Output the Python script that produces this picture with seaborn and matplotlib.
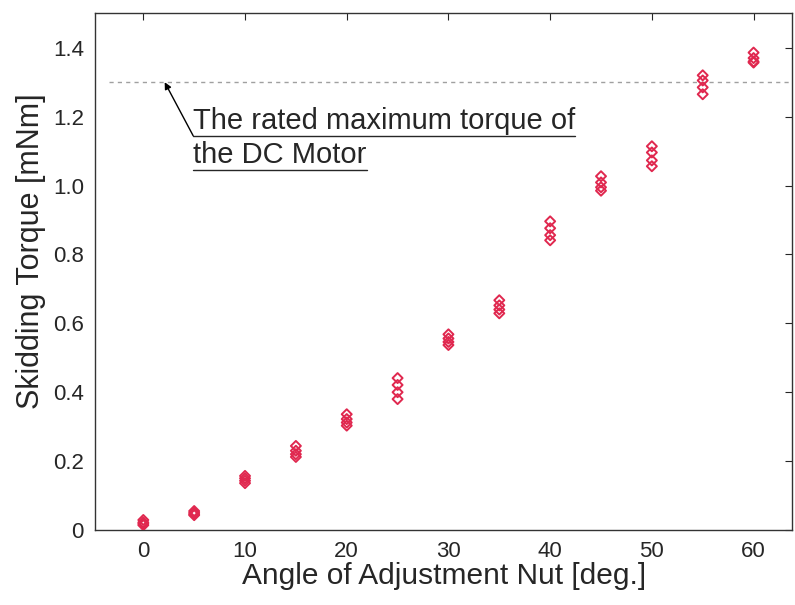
import numpy as np
import pandas as pd
import matplotlib
matplotlib.use("Agg")
import matplotlib.pyplot as plt
import seaborn as sns
from matplotlib.lines import Line2D

# Measured skidding torque, four trials per nut angle
angle_deg = [0, 5, 10, 15, 20, 25, 30, 35, 40, 45, 50, 55, 60]
trial_1 = [0.029, 0.055, 0.157, 0.244, 0.336, 0.441, 0.568, 0.667, 0.896, 1.027, 1.114, 1.320, 1.386]
trial_2 = [0.022, 0.050, 0.150, 0.230, 0.322, 0.421, 0.556, 0.652, 0.876, 1.009, 1.096, 1.305, 1.370]
trial_3 = [0.018, 0.046, 0.143, 0.220, 0.312, 0.400, 0.546, 0.640, 0.856, 0.995, 1.073, 1.285, 1.360]
trial_4 = [0.014, 0.043, 0.136, 0.212, 0.303, 0.380, 0.537, 0.629, 0.841, 0.985, 1.056, 1.265, 1.357]
rated_max_torque = 1.3

x_ticks = [0, 10, 20, 30, 40, 50, 60]
y_ticks = [0, 0.2, 0.4, 0.6, 0.8, 1.0, 1.2, 1.4]
y_tick_labels = ["0", "0.2", "0.4", "0.6", "0.8", "1.0", "1.2", "1.4"]

df = pd.DataFrame({"Angle": angle_deg * 4,
                   "Torque": trial_1 + trial_2 + trial_3 + trial_4})

sns.set_theme(style="white")
plt.rcParams["font.family"] = ["Liberation Sans", "DejaVu Sans"]
text_col = "#262626"

fig = plt.figure(figsize=(7.95, 6.05), dpi=100)
ax = fig.add_axes([0.1195, 0.124, 0.877, 0.854])

ax.axhline(rated_max_torque, xmin=0.02, color="#a0a0a0", lw=1.0, ls=(0, (3, 3)), zorder=1)

sns.scatterplot(data=df, x="Angle", y="Torque", ax=ax, marker="D", s=26,
                facecolor="none", edgecolor="#e0284f", linewidth=1.4, zorder=3)

ax.set_xlim(-4.75, 63.8)
ax.set_ylim(0, 1.5)
ax.set_xticks(x_ticks)
ax.set_yticks(y_ticks)
ax.set_yticklabels(y_tick_labels)
ax.tick_params(direction="in", length=5, width=0.8, top=True, right=True,
               labelsize=16, colors=text_col, pad=8)
for sp in ax.spines.values():
    sp.set_color("#333333")
    sp.set_linewidth(1.0)

ax.set_xlabel("Angle of Adjustment Nut [deg.]", fontsize=21.5, color=text_col, labelpad=0)
ax.set_ylabel("Skidding Torque [mNm]", fontsize=22, color=text_col)
ax.yaxis.set_label_coords(-0.07, 0.54)

# annotation text, underlined like the original
t1 = ax.text(4.9, 1.165, "The rated maximum torque of", fontsize=21, color=text_col, va="baseline")
t2 = ax.text(4.9, 1.066, "the DC Motor", fontsize=21, color=text_col, va="baseline")
fig.canvas.draw()
renderer = fig.canvas.get_renderer()
for t in (t1, t2):
    bb = t.get_window_extent(renderer)
    yb = bb.y0 - 1
    fig.add_artist(Line2D([bb.x0 / fig.dpi / fig.get_figwidth(), bb.x1 / fig.dpi / fig.get_figwidth()],
                          [yb / fig.dpi / fig.get_figheight()] * 2,
                          transform=fig.transFigure, color=text_col, lw=1.0))
bb1 = t1.get_window_extent(renderer)
tail = ax.transData.inverted().transform((bb1.x0, bb1.y0 - 1))
ax.annotate("", xy=(2.1, rated_max_torque), xytext=(tail[0], tail[1]),
            arrowprops=dict(arrowstyle="-|>", color="black", lw=1.0, mutation_scale=10,
                            shrinkA=0, shrinkB=0))

plt.savefig("out.png", dpi=100)
plt.close()
